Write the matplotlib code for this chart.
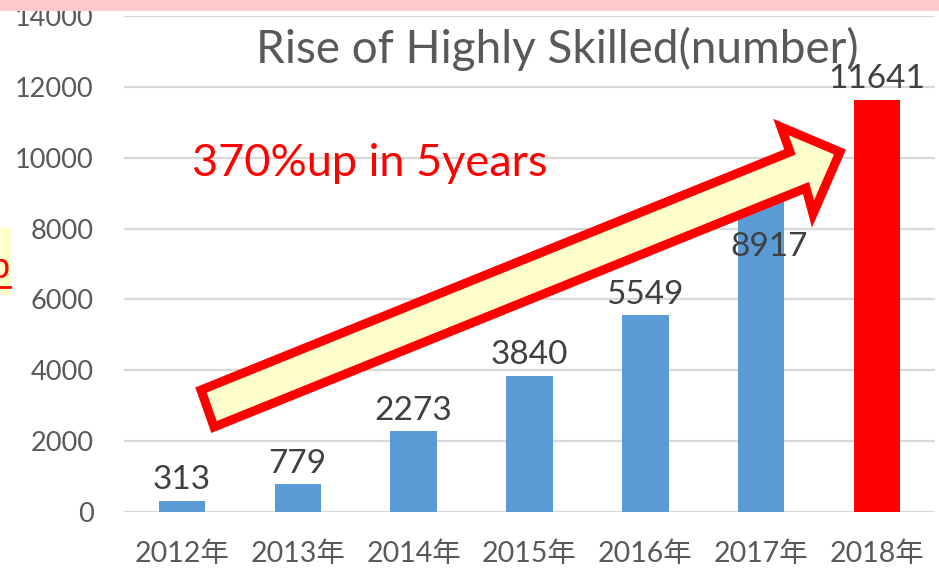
import matplotlib
matplotlib.use("Agg")
import matplotlib.pyplot as plt
from matplotlib.patches import Polygon, Rectangle
import numpy as np

plt.rcParams['font.family'] = ['Lato', 'Noto Sans CJK JP', 'DejaVu Sans']

years = ['2012年', '2013年', '2014年', '2015年', '2016年', '2017年', '2018年']
counts = [313, 779, 2273, 3840, 5549, 8917, 11641]
bar_colors = ['#5B9BD5'] * 6 + ['#FF0000']
yticks = [0, 2000, 4000, 6000, 8000, 10000, 12000, 14000]

W, H = 939, 568
fig = plt.figure(figsize=(W / 100, H / 100), dpi=100)
ax = fig.add_axes([124 / W, 1 - 512 / H, (935 - 124) / W, (512 - 16) / H])

gray = '#595959'
x = np.arange(len(years))
ax.bar(x, counts, width=0.4, color=bar_colors, zorder=2)
ax.set_xlim(-0.5, len(years) - 0.5)
ax.set_ylim(0, 14000)
ax.set_yticks(yticks)
ax.set_xticks(x)
ax.set_xticklabels(years)
ax.tick_params(axis='both', length=0, colors=gray, labelsize=19.5)
ax.tick_params(axis='x', pad=21, labelsize=20.5)
ax.tick_params(axis='y', pad=22)
ax.grid(axis='y', color='#D9D9D9', linewidth=1.6, zorder=0)
for s in ['top', 'right', 'left', 'bottom']:
    ax.spines[s].set_visible(False)

for i, v in enumerate(counts):
    off = (0, 15)
    if i == 5:
        off = (6, -37)  # label was moved under the arrow
    ax.annotate(str(v), (i, v), xytext=off, textcoords='offset points',
                ha='center', va='center', fontsize=24, color='#404040', zorder=5)


def px(pts):
    return [(a / W, 1 - b / H) for a, b in pts]


# big arrow (in image pixel coords)
arrow_pts = [(201, 390), (790, 152), (781, 127), (840, 152),
             (813, 214), (806, 188), (214, 427)]
arrow = Polygon(px(arrow_pts), closed=True, facecolor='#FFFFCC',
                edgecolor='#FF0000', linewidth=6.5, joinstyle='miter',
                transform=fig.transFigure, zorder=3)
fig.add_artist(arrow)

fig.text(557 / W, 1 - 49 / H, 'Rise of Highly Skilled(number)', ha='center',
         va='center', fontsize=33, color=gray)
fig.text(192 / W, 1 - 163 / H, '370%up in 5years', ha='left', va='center',
         fontsize=32.5, color='#FF0000')

# slide bits around the chart
fig.add_artist(Rectangle((0, 1 - 11 / H), 1, 11 / H, transform=fig.transFigure,
                         facecolor='#FFC9C9', edgecolor='none', zorder=10))
fig.add_artist(Rectangle((0, 1 - 295 / H), 11 / W, 67 / H, transform=fig.transFigure,
                         facecolor='#FFFFCC', edgecolor='none', zorder=10))
fig.text(10 / W, 1 - 268 / H, 'p', ha='right', va='center', fontsize=26,
         color='#FF0000', zorder=11)
fig.add_artist(plt.Line2D([0, 10 / W], [1 - 287 / H, 1 - 287 / H],
                          transform=fig.transFigure, color='#FF0000',
                          linewidth=2, zorder=11))

fig.savefig('out.png', dpi=100)
